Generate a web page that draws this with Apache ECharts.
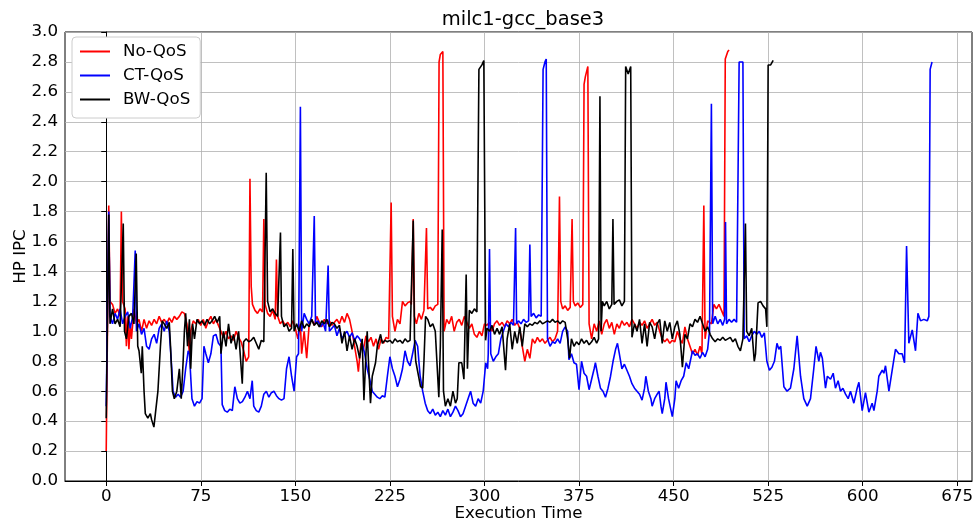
<!DOCTYPE html>
<html>
<head>
<meta charset="utf-8">
<script src="https://cdn.jsdelivr.net/npm/echarts@6/dist/echarts.min.js"></script>
<style>html,body{margin:0;padding:0;background:#fff}#chart{width:979px;height:525px}</style>
</head>
<body>
<div id="chart"></div>
<script>
const xTicks = [0, 75, 150, 225, 300, 375, 450, 525, 600, 675];
const seriesNames = ['No-QoS', 'CT-QoS', 'BW-QoS'];

const noQoS = [[0,0.2],[2,1.84],[3,1.2],[5,1.18],[7,1.12],[9,1.15],[11,1.1],[12,1.8],[13,1.2],[15,1.15],[16,0.9],[17,1.1],[18,0.88],[19,1.05],[20,0.95],[22,1.15],[24,1.05],[26,1.08],[28,1.0],[30,1.08],[32,1.02],[34,1.07],[36,1.04],[38,1.08],[40,1.05],[42,1.1],[44,1.06],[46,1.08],[48,1.05],[50,1.09],[52,1.06],[54,1.1],[56,1.08],[58,1.1],[60,1.13],[62,1.12],[64,1.05],[66,0.85],[67,1.0],[69,1.07],[71,1.05],[73,1.08],[75,1.04],[77,1.08],[79,1.02],[81,1.07],[83,1.1],[85,1.05],[87,1.08],[89,1.04],[91,1.0],[93,0.96],[95,1.0],[97,0.95],[99,0.97],[101,0.94],[103,1.0],[105,0.96],[107,0.93],[109,0.87],[111,0.8],[113,0.83],[114,2.02],[115,1.3],[116,1.18],[118,1.14],[120,1.12],[122,1.15],[124,1.13],[125,1.75],[126,1.18],[128,1.12],[130,1.1],[132,1.14],[134,1.08],[135,1.48],[136,1.1],[138,1.05],[140,1.07],[142,1.04],[144,1.06],[146,1.03],[148,1.07],[150,1.02],[152,0.95],[154,1.05],[155,0.85],[157,1.0],[159,0.82],[161,1.05],[163,1.08],[165,1.04],[167,1.1],[169,1.06],[171,1.03],[173,1.08],[175,1.05],[177,1.07],[179,1.04],[181,1.06],[183,1.08],[185,1.05],[187,1.1],[189,1.06],[191,1.12],[193,1.08],[195,1.0],[197,0.9],[199,0.8],[200,0.73],[202,0.92],[204,0.88],[206,0.97],[208,0.93],[210,0.96],[212,0.9],[214,0.95],[216,0.88],[218,0.95],[220,0.92],[222,0.96],[224,0.95],[225,0.95],[226,1.86],[227,1.1],[229,1.0],[231,1.08],[233,1.05],[235,1.2],[237,1.17],[239,1.19],[241,1.2],[242,1.18],[243.5,1.75],[244.5,1.1],[246,1.05],[248,1.12],[250,1.08],[252,1.14],[254,1.69],[255,1.15],[257,1.16],[259,1.14],[261,1.17],[263,1.18],[264,2.8],[265,2.85],[267,2.87],[268,1.0],[270,1.08],[272,1.05],[274,1.1],[276,1.0],[278,1.06],[280,1.08],[282,1.04],[284,1.1],[286,1.06],[288,1.02],[290,1.05],[292,0.98],[294,0.96],[296,1.0],[298,0.97],[300,1.05],[302,1.04],[304,1.06],[306,1.0],[308,1.05],[310,1.07],[312,1.04],[314,1.06],[316,1.03],[318,1.07],[320,1.05],[322,1.08],[324,1.04],[326,1.06],[328,1.02],[330,0.9],[332,0.8],[334,0.88],[336,0.82],[338,0.95],[340,0.92],[342,0.96],[344,0.93],[346,0.95],[348,0.92],[350,0.94],[352,0.96],[354,0.93],[356,0.95],[358,1.0],[359.5,1.9],[360.5,1.2],[362,1.15],[364,1.17],[366,1.14],[368,1.16],[369.5,1.75],[370.5,1.2],[372,1.17],[374,1.19],[376,1.16],[378,1.18],[379,2.65],[380,2.7],[382,2.77],[383,1.05],[385,0.95],[387,1.05],[389,1.0],[391,1.07],[393,0.98],[395,1.05],[397,1.08],[399,1.02],[401,1.06],[403,0.98],[405,1.05],[407,1.02],[409,1.07],[411,1.04],[413,1.06],[415,1.03],[417,1.08],[419,1.05],[421,1.02],[423,1.06],[425,1.04],[427,1.07],[429,1.02],[431,1.05],[433,1.08],[435,1.04],[437,1.06],[439,1.0],[441,0.95],[443,0.93],[445,0.95],[447,0.92],[449,0.94],[451,0.93],[453,1.0],[455,0.95],[457,0.92],[459,1.03],[461,0.95],[463,0.9],[465,0.85],[467,0.88],[469,0.84],[471,0.9],[472.5,0.85],[474,1.84],[475,0.95],[477,1.07],[480,1.05],[482,1.18],[484,1.15],[486,1.18],[488,1.14],[490,1.1],[491,2.82],[493,2.87],[494,2.88]];

const ctQoS = [[0,0.5],[2,1.8],[3,1.1],[5,1.05],[7,1.12],[9,1.08],[11,1.15],[13,1.05],[15,1.1],[17,1.13],[19,1.02],[21,1.1],[23,1.54],[24,1.0],[26,1.05],[28,0.98],[30,1.02],[32,0.9],[34,0.88],[36,0.95],[38,0.98],[40,0.92],[42,1.02],[44,1.05],[46,1.0],[48,1.07],[50,1.0],[52,0.75],[53,0.6],[55,0.56],[57,0.58],[59,0.56],[61,0.6],[63,0.75],[65,0.87],[66,0.85],[68,0.55],[70,0.5],[72,0.53],[74,0.52],[76,0.55],[77.5,0.9],[79,0.85],[81,0.79],[83,0.85],[85,0.97],[87,0.98],[89,0.92],[91,0.9],[92,0.51],[94,0.47],[96,0.46],[98,0.48],[100,0.47],[102,0.63],[104,0.55],[106,0.52],[108,0.53],[110,0.56],[112,0.6],[114,0.55],[115.8,0.67],[117,0.5],[119,0.47],[121,0.46],[123,0.5],[125,0.58],[127,0.6],[129,0.56],[131,0.59],[133,0.6],[135,0.57],[137,0.55],[139,0.54],[141,0.55],[143,0.75],[145,0.83],[147,0.7],[149,0.6],[151,0.83],[152.5,0.85],[154,2.5],[155,1.0],[157,1.12],[159,1.08],[161,1.05],[163,1.1],[165,1.77],[166,1.05],[168,1.07],[170,1.03],[172,1.06],[174,1.0],[176,1.44],[177,1.0],[179,1.02],[181,1.04],[183,0.97],[185,1.02],[187,0.95],[189,0.98],[191,1.0],[193,0.96],[195,0.99],[197,0.94],[199,0.97],[201,0.95],[203,0.92],[205,0.85],[207,0.75],[209,0.68],[211,0.6],[213,0.58],[215,0.56],[217,0.55],[219,0.57],[221,0.56],[223,0.7],[225,0.83],[227,0.75],[229,0.7],[231,0.63],[233,0.68],[235,0.75],[237,0.87],[239,0.8],[241,0.77],[243,0.85],[245,0.94],[247,0.9],[249,0.7],[251,0.6],[253,0.52],[255,0.47],[257,0.45],[259,0.48],[261,0.44],[263,0.46],[265,0.43],[267,0.47],[269,0.44],[271,0.48],[273,0.43],[275,0.46],[277,0.5],[279,0.47],[281,0.43],[283,0.45],[285,0.5],[287,0.55],[289,0.6],[291,0.52],[293,0.5],[295,0.55],[297,0.52],[299,0.6],[301,0.79],[302.5,0.75],[303,0.85],[304,1.55],[305,0.85],[307,0.8],[309,0.83],[311,0.85],[313,0.95],[315,1.0],[317,1.05],[319,1.03],[321,1.06],[323,1.04],[324.7,1.69],[325.5,1.05],[327,1.07],[329,1.05],[331,1.08],[333,1.06],[335,1.07],[336,1.58],[337,1.1],[339,1.12],[341,1.09],[343,1.11],[345,1.1],[346.5,2.75],[348,2.8],[349,2.82],[350,0.95],[352,0.9],[354,0.93],[356,0.92],[358,0.95],[360,0.92],[362,1.0],[364,1.03],[366,1.0],[367,0.81],[369,0.85],[371,0.79],[373,0.78],[375,0.61],[377,0.8],[379,0.72],[381,0.7],[383,0.61],[385,0.68],[387,0.75],[388,0.79],[390,0.7],[392,0.62],[394,0.6],[396,0.56],[398,0.62],[400,0.7],[402,0.8],[404,0.88],[405.5,0.92],[407,0.85],[409,0.75],[411,0.78],[413,0.74],[415,0.7],[417,0.65],[419,0.62],[421,0.6],[423,0.58],[425,0.54],[427,0.62],[428,0.7],[430,0.6],[432,0.55],[433,0.5],[435,0.55],[437,0.58],[438.5,0.6],[440,0.5],[441,0.45],[443,0.55],[444,0.66],[446,0.55],[448,0.47],[449,0.43],[451,0.55],[452,0.67],[454,0.62],[456,0.67],[458,0.7],[460,0.79],[462,0.75],[463,0.79],[465,0.87],[467,0.84],[469,0.85],[471,0.82],[473,0.86],[475,0.83],[477,0.88],[478.5,1.0],[479.5,1.0],[480,2.52],[481,1.05],[483,1.1],[485,1.05],[487,1.08],[489,1.04],[490.5,1.08],[491.2,1.73],[492,1.05],[494,1.08],[496,1.06],[498,1.08],[500,1.06],[501,1.05],[502,2.8],[505,2.8],[506,0.95],[508,0.97],[510,0.93],[512,0.97],[514,1.0],[516,0.98],[518,1.0],[520,0.96],[522,0.99],[524,0.8],[526,0.74],[528,0.76],[530,0.8],[532,0.92],[533.5,0.88],[535,0.9],[537.5,0.63],[540,0.6],[542.7,0.62],[545.4,0.75],[548,0.97],[550.7,0.7],[553.3,0.55],[556,0.5],[558.6,0.55],[561.2,0.75],[563,0.9],[565.2,0.8],[566.5,0.86],[568,0.82],[570.5,0.62],[572,0.7],[574.5,0.68],[576.6,0.72],[578.4,0.62],[580.5,0.67],[582.4,0.6],[584.3,0.62],[586.4,0.58],[588.5,0.55],[590.3,0.6],[593,0.52],[595.6,0.62],[597,0.66],[599.6,0.47],[602.2,0.59],[604.9,0.46],[607.5,0.52],[608.9,0.47],[611.5,0.6],[612.8,0.7],[615.5,0.74],[616.8,0.72],[618.1,0.77],[620.8,0.6],[623.4,0.74],[626,0.88],[628.7,0.85],[631.3,0.85],[633.2,0.79],[634.8,1.57],[636.6,0.92],[639.3,1.01],[640.6,1.0],[641.9,0.87],[643.8,1.12],[645.9,1.07],[648.5,1.08],[651.2,1.07],[652.5,1.1],[653.5,2.75],[655,2.8]];

const bwQoS = [[0,0.42],[2,1.78],[3,1.05],[5,1.15],[7,1.05],[9,1.08],[11,1.03],[13.5,1.72],[14.5,1.0],[16,0.95],[18,1.1],[20,1.12],[22,1.05],[23.8,1.52],[25,0.9],[26,0.87],[27.8,0.72],[28.6,0.9],[30,0.6],[31,0.45],[33,0.42],[35,0.45],[36,0.41],[37.8,0.36],[39,0.45],[41,0.6],[43,0.9],[44.4,1.07],[46,1.05],[48,1.02],[50,1.06],[51,0.9],[52.5,0.6],[54,0.55],[56,0.6],[58,0.75],[59.5,0.55],[61,0.8],[62,1.0],[63,1.12],[64.5,0.9],[66,1.08],[67,0.75],[68.5,1.05],[70,0.95],[72,1.08],[74,1.05],[76,1.07],[78,1.04],[80,1.08],[82,1.05],[84,1.07],[86,1.1],[88,1.06],[90,1.1],[91,0.85],[93,1.0],[95,0.9],[97,1.05],[99,0.92],[101,0.98],[103,0.88],[105,1.0],[107.9,0.65],[109,0.93],[111,0.95],[113,0.93],[115,0.94],[117,0.96],[119,0.92],[121,0.88],[123,0.94],[125,0.93],[126.9,2.06],[128,1.2],[130,1.13],[132,1.15],[134,1.12],[136,1.1],[138.2,1.66],[139,1.1],[141,1.03],[143,1.05],[145,1.0],[147,1.02],[148,1.55],[149,1.0],[151,1.05],[153,1.0],[155,1.07],[157,1.02],[159,1.05],[161,1.03],[163,1.08],[165,1.04],[167,1.06],[169,1.03],[171,1.07],[173,1.05],[175,1.08],[177,1.03],[179,1.06],[181,1.05],[183,1.02],[185,1.04],[187,0.92],[189,1.0],[191,0.87],[193,0.97],[195,0.88],[197,0.95],[199,0.9],[201,0.82],[203,0.95],[204.4,0.54],[206,0.85],[207,1.0],[208,0.8],[209.6,0.52],[211,0.7],[213.6,0.79],[215,0.9],[217.6,0.98],[219,0.92],[221,0.94],[223,0.93],[225,0.94],[227,0.92],[229,0.95],[231,0.93],[233,0.94],[235,0.92],[237,0.95],[239,0.93],[241,0.94],[242.5,0.95],[243.5,1.74],[244.5,0.95],[245.5,0.8],[247,0.79],[249.3,0.63],[251,0.62],[252,0.8],[253.3,1.1],[255,1.08],[257,1.03],[259,1.05],[261,1.0],[262.5,1.0],[263.8,0.56],[265,0.9],[266.5,1.68],[267.5,0.6],[269,0.5],[271,0.55],[273,0.5],[275,0.6],[277,0.52],[278.4,0.55],[279.7,0.79],[282,0.79],[283.7,0.68],[285.5,1.38],[286.5,0.75],[288,1.14],[290,1.12],[292,1.15],[294,1.13],[295.6,2.75],[298,2.78],[299.5,2.81],[300.9,0.94],[302,1.02],[304,1.0],[306,1.04],[308,0.98],[310,1.02],[312,0.98],[314,1.03],[316.7,0.74],[318,0.95],[320,1.05],[322,0.88],[324,1.0],[326,0.92],[328,1.03],[330,0.9],[332,1.05],[334,1.03],[336,1.05],[338,1.04],[340,1.06],[342,1.05],[344,1.07],[346,1.05],[348,1.06],[350,1.07],[352,1.06],[354,1.08],[356,1.06],[358,1.07],[360,1.05],[362,1.07],[364,1.06],[366,0.95],[367.5,0.82],[369,0.95],[371,0.9],[373,0.93],[375,0.91],[377,0.95],[379,0.92],[381,0.94],[383,0.91],[385,0.93],[387,0.96],[389,0.92],[390.5,0.95],[391.6,2.57],[392.5,1.0],[393.5,1.2],[395,1.17],[397,1.2],[399,1.15],[401,1.18],[401.9,1.75],[402.8,1.18],[405,1.2],[407,1.21],[409,1.17],[411,1.2],[412,2.77],[414,2.72],[416,2.77],[417,0.96],[419,1.05],[421,1.0],[423,1.08],[425,0.92],[427,1.05],[429,0.9],[431,1.06],[433,1.03],[435,0.95],[437,1.05],[439,1.08],[441,0.92],[443,1.07],[445,1.0],[447,1.06],[449,0.95],[451,1.03],[453,1.07],[455,0.98],[457,0.76],[459,0.98],[461,0.95],[463,1.05],[465,1.03],[467,1.08],[469,1.06],[471,1.1],[473,1.05],[475,1.0],[477,1.03],[479,0.98],[481,0.95],[483,0.93],[485,0.95],[487,0.94],[489,0.96],[491,0.94],[493,0.95],[495,0.96],[497,0.93],[499,0.95],[501,0.9],[503,0.87],[505,0.95],[507,1.72],[508,1.0],[510,0.97],[512,1.02],[514,0.8],[515,0.85],[517,1.19],[519,1.2],[521,1.17],[523,1.15],[524,1.03],[525,2.78],[527,2.78],[529,2.81]];

const FONT = 'DejaVu Sans';
const chart = echarts.init(document.getElementById('chart'), null, {renderer: 'canvas'});
const mk = (name, data, color) => ({
  name, type: 'line', data, symbol: 'none', showSymbol: false,
  lineStyle: {color, width: 1.6}, itemStyle: {color}, animation: false
});
chart.setOption({
  animation: false,
  backgroundColor: '#fff',
  title: {
    text: 'milc1-gcc_base3', left: 518, top: 5, textAlign: 'center',
    textStyle: {fontFamily: FONT, fontSize: 19.5, fontWeight: 'normal', color: '#000'}
  },
  grid: {left: 65, right: 7, top: 32, bottom: 44, show: true, borderColor: '#000', borderWidth: 1,
         containLabel: false, outerBoundsMode: 'none'},
  legend: {
    data: seriesNames, orient: 'vertical', left: 72, top: 37,
    padding: [6, 10, 10, 8], itemGap: 7, itemWidth: 30, itemHeight: 2, icon: 'rect',
    backgroundColor: '#fff', borderColor: '#cccccc', borderWidth: 1, borderRadius: 4,
    textStyle: {fontFamily: FONT, fontSize: 16.7, color: '#000', padding: [0, 0, 0, 8]}
  },
  xAxis: {
    type: 'value', min: -32.7, max: 686.7,
    name: 'Execution Time', nameLocation: 'middle', nameGap: 24, nameMoveOverlap: false,
    nameTextStyle: {fontFamily: FONT, fontSize: 16.7, color: '#000'},
    axisLine: {show: true, lineStyle: {color: '#000', width: 1}},
    axisTick: {show: true, length: 5, customValues: xTicks, lineStyle: {color: '#000'}},
    axisLabel: {customValues: xTicks, fontFamily: FONT, fontSize: 16.7, color: '#000', margin: 7},
    splitLine: {show: true, lineStyle: {color: '#b0b0b0', width: 0.8}}
  },
  yAxis: {
    type: 'value', min: 0, max: 3.0, interval: 0.2,
    name: 'HP IPC', nameLocation: 'middle', nameGap: 36, nameRotate: 90, nameMoveOverlap: false,
    nameTextStyle: {fontFamily: FONT, fontSize: 16.7, color: '#000'},
    axisLine: {show: true, lineStyle: {color: '#000', width: 1}},
    axisTick: {show: true, length: 5, lineStyle: {color: '#000'}},
    axisLabel: {fontFamily: FONT, fontSize: 16.7, color: '#000', margin: 7, formatter: v => v.toFixed(1)},
    splitLine: {show: true, lineStyle: {color: '#b0b0b0', width: 0.8}}
  },
  series: [
    mk(seriesNames[0], noQoS, '#ff0000'),
    mk(seriesNames[1], ctQoS, '#0000ff'),
    mk(seriesNames[2], bwQoS, '#000000')
  ]
});
</script>
</body>
</html>
